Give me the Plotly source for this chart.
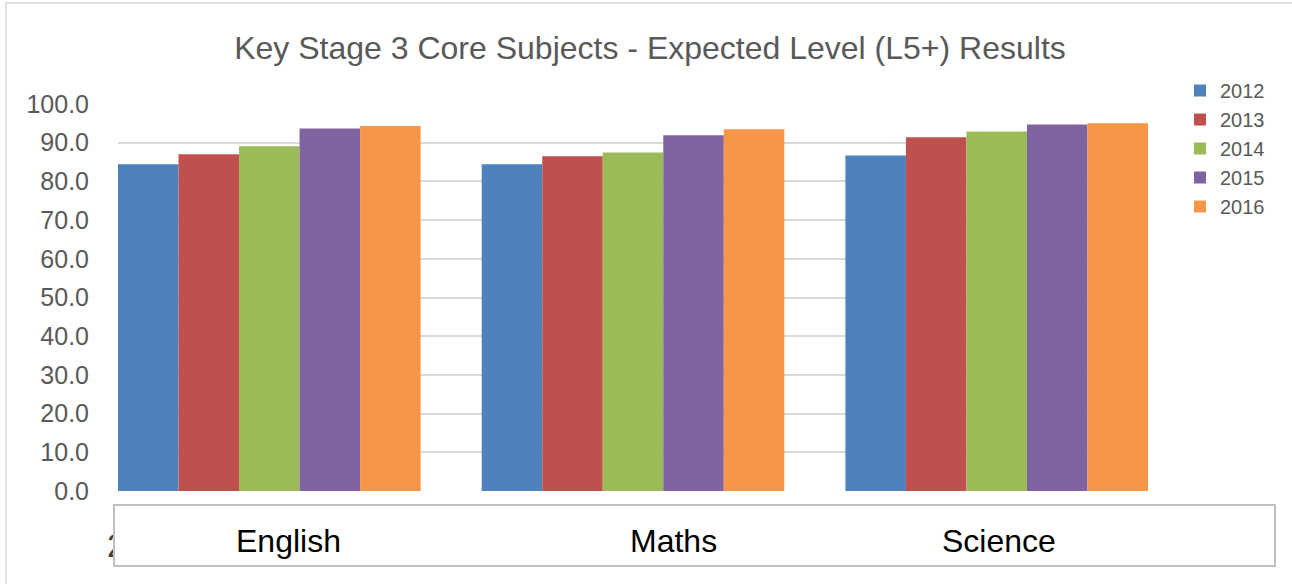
import plotly.graph_objects as go

subjects = ["English", "Maths", "Science"]
years = ["2012", "2013", "2014", "2015", "2016"]
v2012 = [84.4, 84.4, 86.7]
v2013 = [87.0, 86.5, 91.4]
v2014 = [89.1, 87.5, 92.9]
v2015 = [93.7, 91.9, 94.7]
v2016 = [94.3, 93.5, 95.0]
series = [v2012, v2013, v2014, v2015, v2016]
colors = ["#4F81BD", "#C0504D", "#9BBB59", "#8064A2", "#F79646"]
y_ticks = [0, 10, 20, 30, 40, 50, 60, 70, 80, 90, 100]
label_shift = [19, 40, 2]

W, H = 1292, 584
L, R, T, B = 118, 1148, 104, 491
pw, ph = R - L, B - T


def px(x):
    return (x - L) / pw


def py(y):
    return (B - y) / ph


fig = go.Figure()
for yr, vals, c in zip(years, series, colors):
    fig.add_trace(go.Bar(x=subjects, y=vals, name=yr, marker=dict(color=c, line=dict(width=0))))

annotations = []
# partially hidden text behind the box
annotations.append(dict(xref="paper", yref="paper", x=px(116), y=py(545), text="2",
                        showarrow=False, xanchor="center", yanchor="middle",
                        font=dict(family="Liberation Sans", size=33, color="#404040")))
# white box covering the axis labels
annotations.append(dict(xref="paper", yref="paper", x=px(694.5), y=py(535.5), text=" ",
                        showarrow=False, xanchor="center", yanchor="middle",
                        width=1159, height=59, bgcolor="white", bordercolor="#BFBFBF",
                        borderwidth=2, borderpad=0, font=dict(size=10)))
for s, sh in zip(subjects, label_shift):
    annotations.append(dict(xref="x", yref="paper", x=s, xshift=sh, y=py(541), text=s,
                            showarrow=False, xanchor="center", yanchor="middle",
                            font=dict(family="Liberation Sans", size=32, color="#000000")))

fig.update_layout(
    width=W, height=H,
    margin=dict(l=L, r=W - R, t=T, b=H - B, pad=0),
    paper_bgcolor="white", plot_bgcolor="white",
    barmode="group", bargap=0.168, bargroupgap=0,
    title=dict(text="Key Stage 3 Core Subjects - Expected Level (L5+) Results",
               x=650 / W, xanchor="center", y=1 - 48 / H, yanchor="middle",
               font=dict(family="Liberation Sans", size=32, color="#595959")),
    xaxis=dict(range=[-0.416, 2.416], showticklabels=False, showgrid=False,
               zeroline=False, showline=False, ticks=""),
    yaxis=dict(range=[0, 100], tickvals=y_ticks, ticktext=[f"{v:.1f}" for v in y_ticks],
               showgrid=True, gridcolor="#D9D9D9", gridwidth=1.5, zeroline=False,
               showline=False, ticks="", ticklabelstandoff=28,
               tickfont=dict(family="Liberation Sans", size=25, color="#595959")),
    legend=dict(x=px(1180), y=py(71), xanchor="left", yanchor="top",
                font=dict(family="Liberation Sans", size=20, color="#595959"),
                bgcolor="rgba(0,0,0,0)", traceorder="normal", tracegroupgap=0),
    shapes=[dict(type="rect", xref="paper", yref="paper", x0=px(6), y0=-2, x1=3, y1=py(3),
                 line=dict(color="#D9D9D9", width=1.5), layer="below")],
    annotations=annotations,
)

fig.write_html("out.html", config={"displayModeBar": False},
               post_script="document.body.style.margin='0';")
